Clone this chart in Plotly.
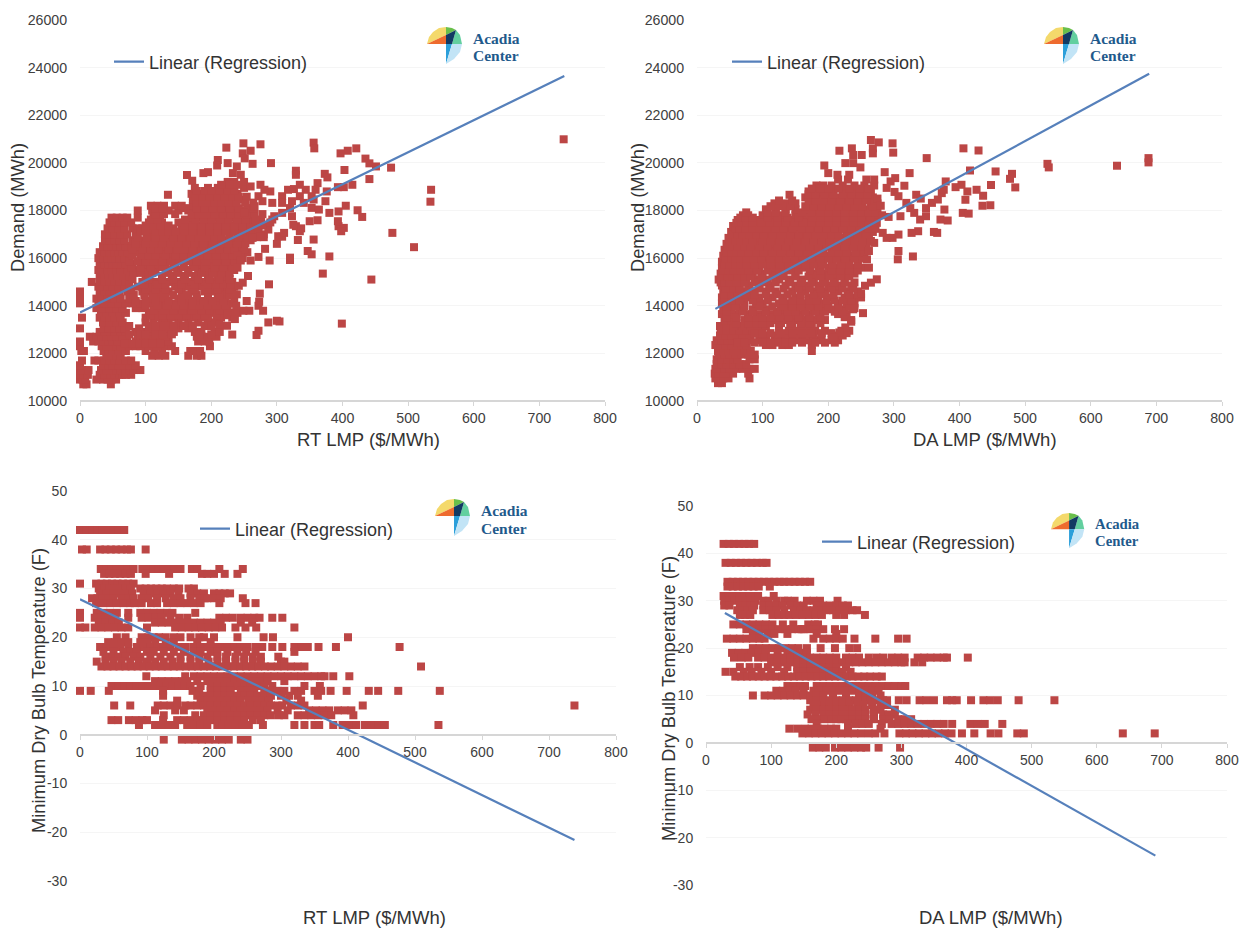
import plotly.graph_objects as go

W, H = 1244, 930
RED = "#bc4645"
BLUE = "#5680bb"
FONT = "Liberation Sans, Arial, sans-serif"

x_ticks = [0, 100, 200, 300, 400, 500, 600, 700, 800]
demand_ticks = [10000, 12000, 14000, 16000, 18000, 20000, 22000, 24000, 26000]
demand_labels = ["10000", "12000", "14000", "16000", "18000", "20000", "22000", "24000", "26000"]
temp_ticks = [-30, -20, -10, 0, 10, 20, 30, 40, 50]
temp_labels = ["-30", "-20", "-10", "0", "10", "20", "30", "40", "50"]

# ---- Demand vs RT LMP: (demand, [rt lmp values at that demand]) ----
rt_demand_rows = [
    (10700, [5, 10, 47]),
    (10900, [0, 4, 8, 25, 35, 42, 48, 55]),
    (11100, [0, 6, 12, 30, 38, 46, 52, 60, 65, 70, 78]),
    (11300, [0, 3, 13, 32, 40, 47, 55, 62, 70, 75, 82, 92]),
    (11500, [0, 35, 43, 50, 58, 67, 75, 85]),
    (11700, [3, 22, 28, 37, 45, 52, 60, 70, 78]),
    (11900, [40, 48, 55, 62, 110, 120, 130, 165, 178, 185]),
    (12100, [2, 6, 36, 44, 50, 58, 70, 100, 113, 125, 145, 168, 175, 183]),
    (12300, [0, 33, 40, 47, 55, 62, 75, 85, 92, 105, 118, 130, 140, 198]),
    (12500, [0, 20, 28, 36, 43, 50, 57, 64, 72, 85, 95, 103, 115, 125, 135, 180, 190, 197]),
    (12700, [15, 25, 33, 41, 48, 56, 65, 88, 97, 110, 122, 130, 178, 186, 195, 208]),
    (12900, [30, 38, 47, 53, 62, 70, 85, 95, 105, 118, 128, 143, 175, 185, 205, 213]),
    (13050, [0, 36, 44, 52, 60, 68, 90, 110, 120, 135, 150, 165]),
    (13300, [35, 45, 55, 65, 100, 112, 125, 135, 150, 165, 180, 195, 205]),
    (13500, [3, 30, 38, 45, 52, 62, 100, 115, 130, 140, 155, 170, 185, 195, 215, 232]),
    (13700, [32, 40, 50, 60, 70, 105, 120, 145, 160, 172, 180, 200, 220, 230, 240]),
    (13900, [25, 35, 45, 55, 65, 85, 95, 135, 150, 165, 175, 190, 205, 215, 225]),
    (14100, [0, 28, 38, 48, 58, 70, 80, 92, 110, 125, 140, 160, 170, 185, 200, 215, 230]),
    (14300, [0, 25, 33, 42, 52, 62, 75, 110, 120, 130, 150, 165, 178, 195, 210, 222, 235]),
    (14600, [0, 30, 38, 45, 53, 60, 72, 95, 105, 120, 135, 155, 170, 190, 205, 220, 232]),
    (14800, [28, 35, 42, 50, 58, 68, 88, 108, 125, 145, 165, 185, 200, 212, 225, 235]),
    (15000, [18, 30, 38, 45, 52, 60, 70, 95, 115, 135, 150, 170, 190, 205, 220, 232]),
    (15250, [30, 37, 44, 50, 57, 66, 75, 100, 125, 140, 158, 175, 195, 210, 222]),
    (15500, [28, 35, 42, 48, 55, 62, 72, 85, 100, 115, 135, 150, 165, 180, 195, 208, 225, 235]),
    (15750, [30, 38, 44, 50, 56, 63, 70, 80, 95, 105, 118, 130, 145, 158, 172, 185, 200, 215, 230]),
    (16000, [28, 36, 42, 48, 54, 60, 68, 76, 92, 108, 120, 135, 148, 160, 175, 188, 200, 212, 225, 238, 248]),
    (16250, [30, 38, 45, 52, 58, 65, 72, 85, 100, 112, 125, 140, 152, 165, 178, 190, 205, 215, 228, 240, 255]),
    (16500, [35, 42, 48, 55, 62, 70, 78, 90, 105, 118, 130, 142, 155, 168, 180, 195, 208, 220, 232, 245]),
    (16750, [38, 45, 52, 60, 68, 80, 95, 110, 122, 135, 148, 160, 172, 185, 198, 210, 222, 235, 248, 260]),
    (17000, [38, 45, 53, 62, 72, 85, 110, 120, 130, 140, 152, 165, 178, 190, 202, 215, 228, 240, 252, 265, 280]),
    (17250, [42, 50, 58, 68, 80, 88, 95, 108, 118, 128, 142, 155, 168, 180, 192, 205, 218, 230, 242, 255, 270]),
    (17500, [45, 52, 60, 68, 78, 105, 115, 125, 150, 165, 175, 188, 200, 212, 225, 238, 250, 262]),
    (17700, [48, 56, 65, 72, 88, 112, 122, 172, 182, 195, 208, 220, 232, 245, 258]),
    (18000, [88, 110, 120, 135, 150, 165, 175, 188, 200, 212, 225, 238, 252]),
    (18200, [108, 118, 128, 145, 155, 172, 182, 195, 208, 220, 232]),
    (18450, [172, 180, 190, 200, 212, 222, 232, 245]),
    (18700, [170, 182, 195, 205, 215, 228, 240]),
    (18950, [175, 195, 210, 222, 235, 250]),
    (19200, [225, 235, 250]),
]
rt_demand_fill = [
    (12400, [68, 80, 90, 100, 110, 122]),
    (12800, [75, 92, 100, 115, 125, 140, 182, 200]),
    (13150, [75, 105, 115, 128, 142, 158, 172, 190, 200]),
    (13600, [108, 125, 138, 150, 163, 178, 190, 208, 225]),
    (13800, [112, 128, 142, 156, 170, 185, 198, 212]),
    (14000, [100, 118, 132, 145, 158, 172, 182, 195, 208, 222, 238]),
    (14200, [85, 100, 115, 135, 155, 172, 188, 202, 218]),
    (14450, [82, 98, 112, 128, 142, 160, 178, 195, 212, 228]),
    (14700, [78, 100, 115, 130, 150, 175, 195, 210, 228]),
    (14900, [75, 98, 118, 130, 155, 175, 195, 208, 218, 230]),
    (15120, [80, 105, 125, 142, 160, 180, 198, 212, 228]),
    (15380, [82, 92, 110, 132, 148, 165, 185, 202, 215, 228]),
    (15620, [78, 92, 108, 125, 142, 158, 175, 190, 205, 218, 232]),
    (15870, [75, 88, 100, 112, 125, 138, 152, 165, 178, 192, 208, 222, 236]),
    (16120, [80, 95, 105, 115, 130, 145, 158, 170, 182, 195, 208, 220, 232, 244]),
    (16380, [80, 95, 108, 120, 135, 148, 160, 172, 185, 200, 212, 225, 235, 250]),
    (16620, [85, 100, 112, 125, 138, 150, 162, 175, 188, 202, 215, 226, 240, 252]),
    (16880, [88, 102, 115, 128, 142, 155, 168, 180, 192, 205, 216, 228, 242, 255, 270, 280]),
    (17120, [92, 100, 115, 125, 135, 146, 160, 172, 185, 198, 210, 222, 235, 248, 260, 272]),
    (17370, [100, 112, 122, 135, 160, 172, 185, 198, 210, 222, 235, 248, 260, 272, 282]),
    (17620, [108, 118, 160, 176, 188, 200, 214, 226, 240, 252, 265, 276]),
    (17850, [115, 128, 145, 170, 180, 192, 205, 218, 230, 242, 255, 266, 278]),
    (18100, [115, 125, 160, 178, 190, 202, 215, 228, 242, 255, 265]),
    (18330, [178, 186, 195, 205, 216, 226, 238, 252, 264]),
    (18580, [176, 186, 198, 210, 220, 232, 242, 254]),
    (18820, [178, 190, 200, 212, 225, 235]),
    (19080, [215, 228, 240]),
]
rt_demand_extra = [
    (737, 20990), (535, 18870), (534, 18370), (509, 16460), (476, 17060), (474, 19800), (444, 15100), (399, 13250),
    (356, 20850), (357, 20610), (421, 20610), (408, 20510), (397, 20400), (435, 20180), (441, 19980), (451, 19850),
    (291, 19990), (275, 20780), (249, 20820), (223, 20640), (260, 20510), (248, 20400), (251, 20190), (263, 19960),
    (225, 19990), (210, 20120), (209, 19890), (163, 19490), (171, 19250), (188, 19570), (195, 19610), (239, 19850),
    (233, 19570), (245, 19500), (134, 18660), (329, 19670), (329, 19500), (373, 19540), (377, 19390), (403, 19700),
    (441, 19320), (415, 19080), (393, 18980), (402, 18980), (405, 18200), (423, 18010), (430, 17730), (394, 17340),
    (402, 17270), (398, 17130), (394, 17960), (393, 17550), (380, 17900), (374, 18390), (376, 18800), (362, 17590),
    (350, 17550), (353, 18110), (364, 18040), (356, 16780), (347, 16300), (353, 16160), (380, 16070), (370, 15350),
    (320, 15920), (320, 16020), (272, 16050), (289, 15900), (282, 16390), (300, 16600), (308, 16900), (332, 16760),
    (335, 17130), (329, 17340), (288, 14900), (274, 14510), (273, 14170), (272, 14000), (279, 13790), (287, 13300),
    (300, 13370), (304, 13340), (272, 12950), (269, 12770), (232, 12790), (256, 15250), (248, 14970), (242, 14840),
    (239, 14480), (254, 14200), (258, 13790), (249, 13790), (236, 13440), (224, 13160), (212, 13230), (308, 18600),
    (317, 18870), (326, 18900), (335, 19080), (344, 18870), (362, 19150), (359, 18870), (308, 18320), (323, 18390),
    (335, 18600), (341, 18320), (320, 18100), (323, 17760), (308, 17900), (296, 17760), (293, 18320), (290, 18800),
    (275, 19080), (260, 19010), (281, 18870), (272, 18600), (278, 18390), (266, 18180), (293, 17620), (287, 17200),
    (302, 16920), (275, 16920), (263, 16850), (311, 17060), (356, 18460), (353, 18600), (240, 16100), (245, 15900),
    (260, 15900), (240, 15600), (250, 17900), (268, 17600), (278, 17400), (290, 17500), (337, 17250), (325, 17400),
]
rt_demand_line_x = [0, 738]
rt_demand_line_y = [13720, 23650]

# ---- Demand vs DA LMP ----
da_demand_rows = [
    (10750, [32, 38]),
    (10950, [28, 34, 40, 48, 80]),
    (11150, [27, 33, 40, 47, 55, 78]),
    (11350, [28, 35, 42, 50, 60, 70, 80, 88]),
    (11550, [30, 38, 45, 55, 65, 75]),
    (11750, [30, 38, 46, 55, 62, 80, 88]),
    (11950, [33, 42, 50, 58, 68, 78, 88]),
    (12100, [32, 40, 48, 56, 64, 72, 82, 175]),
    (12350, [28, 36, 44, 52, 60, 68, 76, 105, 115, 130, 140, 175]),
    (12550, [30, 38, 46, 54, 62, 72, 82, 95, 105, 118, 130, 142, 155, 170, 185, 205, 215]),
    (12750, [35, 43, 52, 60, 70, 80, 95, 105, 122, 135, 150, 165, 178, 190, 212, 222]),
    (12950, [36, 45, 55, 65, 75, 85, 95, 125, 140, 155, 170, 180, 195, 220, 232]),
    (13150, [35, 45, 55, 70, 82, 92, 105, 125, 145, 160, 175]),
    (13400, [42, 52, 72, 85, 95, 105, 118, 135, 150, 165, 180, 195, 235]),
    (13650, [38, 50, 60, 78, 95, 115, 132, 145, 158, 170, 185, 215, 228]),
    (13850, [40, 52, 65, 85, 105, 128, 140, 152, 165, 178, 190, 205, 225, 238]),
    (14100, [38, 48, 60, 72, 90, 100, 125, 140, 150, 165, 175, 190, 215, 228, 240]),
    (14350, [38, 46, 56, 68, 78, 95, 115, 130, 150, 170, 185, 200, 225, 240, 250]),
    (14600, [40, 50, 60, 70, 85, 105, 120, 145, 165, 180, 195, 215, 230, 245]),
    (14850, [38, 46, 55, 65, 80, 95, 110, 135, 150, 165, 185, 200, 215, 235]),
    (15100, [33, 40, 48, 56, 66, 75, 90, 108, 125, 140, 160, 178, 195, 210, 225]),
    (15350, [36, 44, 52, 60, 70, 85, 100, 118, 130, 150, 180, 195, 210, 225, 240]),
    (15600, [38, 46, 54, 62, 72, 82, 95, 108, 120, 135, 145, 160, 172, 185, 200, 212, 225, 238, 250]),
    (15850, [38, 46, 54, 62, 70, 80, 92, 105, 118, 130, 142, 155, 168, 180, 192, 205, 218, 230, 245]),
    (16100, [40, 48, 56, 64, 72, 82, 95, 108, 122, 135, 148, 160, 172, 185, 198, 210, 222, 235, 250]),
    (16350, [42, 50, 58, 66, 75, 85, 100, 112, 125, 138, 150, 165, 178, 190, 205, 218, 230, 245, 255]),
    (16600, [45, 52, 60, 68, 78, 92, 105, 118, 130, 145, 158, 170, 182, 195, 208, 220, 232, 245, 258]),
    (16850, [48, 56, 64, 72, 82, 95, 108, 120, 135, 148, 160, 172, 185, 198, 210, 222, 235, 248, 262]),
    (17100, [52, 60, 68, 78, 88, 100, 112, 125, 138, 150, 165, 178, 190, 202, 215, 228, 240, 252, 268]),
    (17350, [55, 62, 70, 80, 90, 102, 115, 128, 140, 155, 168, 180, 192, 205, 218, 230, 242, 255, 270]),
    (17600, [62, 70, 78, 92, 105, 118, 130, 145, 160, 172, 185, 198, 210, 222, 235, 248, 260, 272]),
    (17800, [70, 78, 100, 112, 128, 150, 168, 180, 192, 205, 218, 230, 242, 255, 270]),
    (18050, [105, 120, 135, 150, 170, 182, 195, 208, 220, 232, 245, 258, 275]),
    (18300, [118, 135, 150, 175, 185, 198, 212, 225, 238, 250, 265, 275]),
    (18550, [165, 175, 188, 200, 215, 228, 240, 255, 268]),
    (18800, [170, 180, 192, 205, 225, 240, 250, 265]),
    (19050, [182, 192, 205, 222, 240, 255, 270]),
    (19300, [215, 230, 258, 270]),
]
da_demand_fill = [
    (12450, [62, 72, 88, 100, 112, 124, 135, 145, 160, 180, 195, 210]),
    (12850, [88, 100, 112, 128, 145, 160, 175, 190, 205, 228]),
    (13270, [60, 78, 90, 100, 112, 128, 142, 158, 172, 188]),
    (13520, [45, 60, 78, 90, 100, 112, 125, 140, 155, 172, 188, 225]),
    (13750, [45, 70, 85, 105, 122, 138, 150, 165, 180, 195, 210, 222]),
    (13980, [45, 58, 72, 95, 115, 132, 145, 158, 172, 185, 200, 215, 232]),
    (14220, [42, 52, 65, 85, 108, 132, 145, 158, 172, 182, 198, 210, 222, 235]),
    (14480, [42, 52, 62, 75, 88, 105, 122, 138, 158, 178, 192, 208, 232, 245]),
    (14720, [44, 55, 65, 78, 95, 112, 132, 155, 172, 188, 205, 222, 238]),
    (14980, [36, 42, 50, 60, 72, 88, 102, 120, 142, 158, 175, 192, 208, 225, 240]),
    (15230, [38, 46, 54, 62, 72, 82, 98, 115, 132, 150, 170, 188, 202, 218, 232]),
    (15480, [40, 48, 56, 66, 78, 92, 108, 125, 140, 155, 172, 188, 205, 218, 232, 245]),
    (15730, [42, 50, 58, 66, 76, 88, 100, 112, 126, 140, 152, 166, 178, 192, 206, 220, 232, 245]),
    (15980, [44, 52, 58, 66, 75, 86, 98, 112, 125, 136, 148, 162, 175, 188, 200, 212, 226, 240, 252]),
    (16230, [45, 52, 60, 68, 78, 90, 102, 115, 128, 142, 155, 168, 180, 192, 205, 216, 228, 242, 255]),
    (16480, [47, 54, 62, 72, 82, 95, 108, 122, 135, 148, 160, 172, 185, 198, 212, 225, 238, 250]),
    (16720, [50, 58, 66, 75, 85, 100, 112, 125, 140, 152, 165, 178, 190, 202, 214, 228, 240, 252, 265]),
    (16980, [54, 62, 70, 80, 90, 102, 115, 128, 142, 155, 168, 180, 192, 205, 216, 230, 245, 258]),
    (17230, [58, 65, 74, 84, 95, 106, 120, 132, 145, 160, 172, 185, 198, 210, 222, 235, 248, 262, 272]),
    (17480, [60, 68, 76, 85, 98, 110, 122, 135, 148, 162, 175, 188, 200, 212, 225, 238, 250, 262, 274]),
    (17700, [66, 74, 85, 108, 122, 138, 155, 176, 188, 200, 212, 225, 238, 250, 264]),
    (17920, [75, 108, 120, 135, 160, 175, 188, 200, 212, 225, 238, 250, 262, 272]),
    (18180, [112, 128, 142, 165, 178, 190, 202, 215, 228, 240, 252, 268]),
    (18420, [125, 145, 170, 180, 192, 205, 218, 232, 245, 258, 270]),
    (18680, [170, 180, 195, 208, 222, 235, 248, 260]),
    (18920, [175, 188, 200, 215, 232, 248, 262]),
]
da_demand_extra = [
    (688, 20200), (688, 20020), (640, 19880), (534, 19960), (536, 19810), (485, 18970), (480, 19540), (477, 19330),
    (455, 19640), (448, 19070), (447, 18220), (435, 18200), (436, 18620), (426, 18870), (416, 19680), (429, 20520),
    (406, 20610), (412, 18800), (403, 19080), (394, 18980), (409, 18450), (405, 17900), (414, 17870), (350, 20200),
    (298, 20820), (299, 20430), (265, 20960), (277, 20860), (268, 20610), (268, 20400), (236, 20610), (217, 20510),
    (238, 20330), (251, 20330), (226, 19990), (238, 19990), (249, 19810), (194, 19890), (200, 19570), (214, 19500),
    (232, 19500), (141, 18660), (324, 19570), (286, 19610), (302, 19360), (295, 19220), (316, 19040), (289, 18950),
    (301, 18780), (307, 18600), (334, 18660), (341, 18500), (319, 18320), (325, 18100), (310, 17760), (292, 17730),
    (331, 17900), (340, 17620), (349, 17760), (349, 18100), (358, 18320), (367, 18460), (373, 18730), (379, 19220),
    (376, 18870), (377, 18040), (371, 17620), (382, 17580), (361, 17100), (366, 17060), (337, 17130), (327, 17060),
    (307, 16990), (298, 16850), (283, 17060), (289, 16850), (270, 16640), (307, 16300), (306, 15950), (329, 16070),
    (274, 15110), (265, 14970), (256, 14840), (262, 15600), (259, 15950), (253, 13690), (235, 13330), (226, 13090),
    (217, 12880), (208, 12670), (262, 16300), (275, 18500), (280, 18200), (282, 17800), (240, 13900), (250, 14500),
]
da_demand_line_x = [28, 689]
da_demand_line_y = [13870, 23740]

# ---- Minimum dry bulb temperature vs RT LMP: (temperature, [rt lmp values]) ----
rt_temp_rows = [
    (42, [0, 9, 18, 26, 34, 42, 50, 58, 66]),
    (38, [3, 10, 30, 38, 46, 54, 62, 70, 76, 98]),
    (34, [31, 39, 47, 55, 63, 71, 80, 93, 101, 109, 117, 125, 133, 141, 150, 167, 175, 208, 243]),
    (33, [36, 44, 52, 60, 68, 76, 98, 133, 182, 190, 200, 216, 235]),
    (31, [0, 24, 32, 40, 48, 56, 64, 72, 80]),
    (30, [28, 36, 44, 52, 60, 68, 76, 90, 98, 106, 114, 122, 130, 140, 148, 162, 170]),
    (29, [30, 40, 50, 60, 70, 78, 95, 105, 115, 125, 135, 147, 165, 175, 185, 200, 208, 216, 224]),
    (28, [18, 26, 34, 42, 50, 62, 72, 80, 92, 102, 115, 128, 140, 150, 165, 178, 186, 190, 200, 210, 243]),
    (27, [24, 35, 45, 55, 65, 75, 82, 92, 106, 115, 130, 140, 150, 160, 170, 180, 208, 247, 262]),
    (25, [0, 25, 35, 45, 55, 72, 90, 100, 110, 120, 130, 138, 172]),
    (24, [0, 22, 32, 42, 52, 72, 92, 102, 112, 122, 135, 148, 160, 208, 218, 228, 240, 250, 260, 268, 287, 302]),
    (23, [28, 38, 48, 58, 112, 122, 132, 142, 150, 160, 170, 180, 190, 200, 210, 240, 257]),
    (22, [0, 8, 22, 32, 42, 52, 62, 72, 100, 142, 152, 162, 172, 182, 192, 202, 212, 232, 247, 263, 320]),
    (20, [55, 68, 92, 102, 110, 118, 128, 140, 150, 165, 178, 185, 200, 235, 274, 288, 400]),
    (19, [42, 52, 62, 72, 90, 100, 112, 128, 140, 175, 195]),
    (18, [30, 40, 50, 60, 72, 85, 95, 105, 115, 125, 135, 147, 158, 170, 180, 190, 200, 210, 220, 230, 240, 250, 262, 272, 287, 302, 320, 330, 340, 356, 382, 477]),
    (17, [35, 50, 65, 75, 85, 100, 110, 125, 140, 155, 170, 180, 195, 205, 220, 235, 248, 262, 320]),
    (16, [38, 48, 58, 68, 80, 90, 105, 120, 135, 150, 165, 178, 190, 205, 218, 232, 245, 258, 270, 296]),
    (15, [25, 38, 50, 62, 75, 88, 100, 112, 125, 138, 150, 165, 178, 192, 205, 218, 232, 245, 258, 270, 300, 305]),
    (14, [32, 41, 50, 59, 68, 77, 86, 95, 104, 113, 122, 131, 140, 149, 158, 167, 176, 185, 194, 203, 212, 221, 230, 239, 248, 257, 266, 276, 285, 295, 305, 315, 325, 335, 509]),
    (12, [99, 157, 170, 180, 190, 200, 210, 220, 230, 240, 250, 260, 270, 280, 290, 300, 310, 320, 330, 340, 350, 360, 365, 378, 402]),
    (11, [112, 122, 132, 142, 152, 160, 175, 190, 200, 210, 220, 230, 240, 250, 260, 270, 280, 305]),
    (10, [47, 57, 66, 75, 84, 93, 102, 111, 120, 129, 138, 147, 156, 165, 180, 195, 205, 215, 225, 235, 245, 255, 265, 275, 287, 335, 358]),
    (9, [0, 16, 43, 124, 168, 178, 195, 205, 215, 225, 240, 250, 260, 275, 285, 295, 305, 320, 330, 350, 360, 374, 398, 431, 445, 475, 537]),
    (8, [124, 175, 185, 195, 205, 215, 225, 235, 245, 255, 265, 275, 285, 300, 312, 325, 355]),
    (7, [145, 180, 190, 200, 210, 220, 230, 240, 252, 262, 272, 282, 308, 330]),
    (6, [51, 75, 116, 125, 135, 145, 157, 165, 175, 185, 195, 205, 215, 225, 235, 245, 255, 265, 275, 285, 295, 302, 315, 325, 335, 422, 738]),
    (5, [112, 142, 155, 190, 200, 210, 220, 230, 240, 250, 260, 270, 280, 295, 310, 342, 352, 362, 372, 385, 395, 405]),
    (4, [125, 172, 185, 195, 205, 215, 225, 235, 245, 255, 265, 275, 285, 297, 305, 325, 335, 345, 355, 365, 375, 408]),
    (3, [47, 57, 73, 83, 93, 100, 124, 145, 155, 165, 175, 185, 195, 205, 215, 225, 235, 245, 258, 270]),
    (2, [88, 112, 122, 132, 142, 160, 170, 180, 190, 205, 212, 222, 232, 242, 252, 273, 320, 335, 350, 357, 378, 392, 402, 412, 425, 435, 445, 455, 535]),
    (-1, [125, 152, 162, 172, 182, 192, 202, 212, 222, 240, 250]),
]
rt_temp_line_x = [0, 738]
rt_temp_line_y = [27.8, -21.6]

# ---- Minimum dry bulb temperature vs DA LMP ----
da_temp_rows = [
    (42, [27, 35, 43, 51, 59, 66, 74]),
    (38, [30, 38, 46, 54, 62, 70, 78, 87, 93]),
    (34, [33, 41, 49, 57, 65, 73, 81, 89, 97, 105, 113, 120, 128, 136, 144, 152, 160]),
    (33, [33, 41, 49, 57, 65, 73, 81, 98]),
    (31, [27, 35, 43, 51, 59, 67, 75, 80, 104]),
    (30, [28, 36, 44, 52, 60, 68, 76, 88, 96, 108, 120, 126, 136, 155, 165, 175, 202]),
    (29, [28, 36, 52, 60, 68, 74, 88, 98, 108, 118, 130, 140, 150, 170, 180, 190, 200, 210, 218]),
    (28, [48, 56, 64, 72, 88, 98, 108, 120, 135, 145, 155, 165, 175, 185, 195, 205, 215, 225, 232]),
    (27, [52, 60, 68, 102, 112, 120, 128, 138, 148, 158, 168, 178, 200, 212, 244]),
    (25, [42, 52, 62, 72, 82, 92, 102, 118, 134, 157, 167, 172]),
    (24, [62, 72, 82, 92, 102, 112, 122, 132, 142, 147, 150, 160, 170, 180, 198, 212]),
    (23, [72, 82, 95, 105, 125, 170, 200]),
    (22, [32, 42, 52, 62, 72, 82, 90, 165, 180, 190, 200, 210, 228, 260, 295, 308]),
    (20, [72, 82, 92, 102, 112, 122, 132, 142, 155, 176, 198, 220, 232]),
    (19, [40, 50, 60, 70, 80, 92, 110, 125, 135, 145, 155]),
    (18, [43, 55, 65, 80, 90, 100, 110, 120, 130, 140, 150, 160, 170, 180, 190, 200, 215, 225, 235, 250, 262, 272, 285, 295, 305, 325, 335, 345, 355, 365, 370, 402]),
    (17, [100, 110, 120, 130, 140, 150, 160, 170, 180, 190, 200, 210, 220, 230, 240, 250, 260, 270, 280, 290, 300, 305, 320, 332]),
    (16, [52, 67, 80, 95, 110, 125, 140, 150, 160, 170, 180, 190, 200, 215]),
    (15, [30, 42, 58, 70, 85, 100, 120, 140, 150, 160, 170, 180, 190, 200, 210, 222]),
    (14, [45, 54, 63, 72, 81, 90, 99, 108, 117, 126, 135, 144, 153, 162, 171, 180, 189, 198, 207, 216, 225, 234, 243, 252, 262, 270]),
    (12, [125, 135, 145, 152, 170, 180, 190, 200, 210, 220, 230, 240, 250, 260, 270, 280, 290, 300, 306]),
    (11, [108, 118, 128, 138, 150, 165, 175, 185, 195, 205, 215, 225, 235, 245, 255, 265]),
    (10, [72, 90, 100, 110, 120, 130, 140, 150, 160, 170, 180, 195, 215, 235, 245, 255, 268]),
    (9, [160, 170, 180, 190, 200, 210, 220, 230, 238, 245, 252, 260, 272, 278, 296, 308, 328, 338, 350, 370, 378, 385, 407, 426, 436, 448, 480, 535]),
    (8, [165, 175, 182, 190, 200, 210, 220, 232, 242, 255, 268, 278]),
    (7, [160, 170, 180, 190, 200, 210, 218, 225, 235, 245, 258, 268, 290]),
    (6, [156, 168, 180, 190, 200, 210, 218, 225, 235, 245, 258, 272, 280, 290]),
    (5, [162, 172, 182, 192, 200, 208, 215, 225, 235, 245, 258, 272, 282, 295, 305, 315]),
    (4, [170, 218, 230, 240, 250, 270, 285, 295, 305, 315, 325, 335, 345, 355, 365, 378, 406, 417, 428, 455]),
    (3, [128, 140, 152, 162, 172, 182, 192, 200, 218, 268]),
    (2, [148, 158, 168, 178, 188, 198, 208, 218, 228, 238, 250, 260, 274, 297, 307, 317, 327, 337, 347, 357, 367, 377, 393, 412, 437, 449, 478, 488, 640, 689]),
    (-1, [164, 174, 184, 198, 208, 218, 228, 238, 246, 265, 298]),
]
da_temp_line_x = [29, 690]
da_temp_line_y = [27.4, -23.8]


def from_rows(rows):
    xs = [x for level, values in rows for x in values]
    ys = [level for level, values in rows for _ in values]
    return xs, ys


def with_extra(rows, extra):
    xs, ys = from_rows(rows)
    return xs + [p[0] for p in extra], ys + [p[1] for p in extra]


def fx(px):
    return px / W


def fy(px):
    return 1 - px / H


rt_d = with_extra(rt_demand_rows + rt_demand_fill, rt_demand_extra)
da_d = with_extra(da_demand_rows + da_demand_fill, da_demand_extra)
rt_t = from_rows(rt_temp_rows)
da_t = from_rows(da_temp_rows)

panels = [
    dict(points=rt_d, lx=rt_demand_line_x, ly=rt_demand_line_y, xtitle="RT LMP ($/MWh)", ytitle="Demand (MWh)",
         xpx=(80, 605), ypx=(20, 401), yrange=[10000, 26000], yticks=demand_ticks, ylabels=demand_labels, axis_px=401,
         xt=(368, 439), yt=(18, 208), legend=(109, 62), logo=(0, 0, 1.0), tfs=14.2),
    dict(points=da_d, lx=da_demand_line_x, ly=da_demand_line_y, xtitle="DA LMP ($/MWh)", ytitle="Demand (MWh)",
         xpx=(697, 1222), ypx=(20, 401), yrange=[10000, 26000], yticks=demand_ticks, ylabels=demand_labels, axis_px=401,
         xt=(985, 439), yt=(638, 208), legend=(727, 62), logo=(617, 0, 1.0), tfs=14.2),
    dict(points=rt_t, lx=rt_temp_line_x, ly=rt_temp_line_y, xtitle="RT LMP ($/MWh)", ytitle="Minimum Dry Bulb Temperature (F)",
         xpx=(80, 616), ypx=(491, 881), yrange=[-30, 50], yticks=temp_ticks, ylabels=temp_labels, axis_px=735,
         xt=(374, 917), yt=(38, 691), legend=(195, 529), logo=(8, 472, 1.0), tfs=14),
    dict(points=da_t, lx=da_temp_line_x, ly=da_temp_line_y, xtitle="DA LMP ($/MWh)", ytitle="Minimum Dry Bulb Temperature (F)",
         xpx=(706, 1227), ypx=(506, 885), yrange=[-30, 50], yticks=temp_ticks, ylabels=temp_labels, axis_px=743,
         xt=(991, 917), yt=(668, 699), legend=(817, 542), logo=(624, 486, 0.95), tfs=14),
]

fig = go.Figure()
layout = dict(
    width=W, height=H, margin=dict(l=0, r=0, t=0, b=0), autosize=False,
    paper_bgcolor="white", plot_bgcolor="white", showlegend=True,
    font=dict(family=FONT, color="#404040"),
)

# Logo geometry in page pixels (drawn once per panel with an offset)
LOGO_PIECES = [
    ("#f4d96b", [(427, 44), (429, 37), (433, 32), (439, 28), (446, 27), (446, 35)]),
    ("#ee6b2e", [(427, 44), (446, 35), (446, 44)]),
    ("#69bf4b", [(446, 27), (452, 28), (456, 30), (446, 35)]),
    ("#62cf9f", [(456, 30), (460, 35), (462, 44), (452, 44)]),
    ("#123a63", [(446, 35), (456, 30), (452, 44), (446, 44)]),
    ("#2b9fda", [(446, 44), (452, 44), (446, 64)]),
    ("#c2e4f6", [(452, 44), (462, 44), (460, 52), (454, 59), (446, 64)]),
]
shapes, annotations = [], []

for i, p in enumerate(panels):
    n = "" if i == 0 else str(i + 1)
    xa, ya = f"x{n}", f"y{n}"
    x_pts, y_pts = p["points"]
    fig.add_trace(go.Scatter(
        x=x_pts, y=y_pts, mode="markers", xaxis=xa, yaxis=ya, showlegend=False, cliponaxis=False,
        marker=dict(symbol="square", size=8, color=RED, line=dict(width=0)), name="Observations",
    ))
    fig.add_trace(go.Scatter(
        x=p["lx"], y=p["ly"], mode="lines", xaxis=xa, yaxis=ya, cliponaxis=False,
        line=dict(color=BLUE, width=2.2), name="Linear (Regression)",
        legend="legend" if i == 0 else f"legend{i + 1}",
    ))
    lx, ly = p["legend"]
    layout["legend" if i == 0 else f"legend{i + 1}"] = dict(
        x=fx(lx), y=fy(ly), xanchor="left", yanchor="middle", bgcolor="rgba(0,0,0,0)",
        font=dict(family=FONT, size=18, color="#333333"),
    )
    layout[f"xaxis{n}"] = dict(
        domain=[fx(p["xpx"][0]), fx(p["xpx"][1])], range=[0, 800], tickvals=x_ticks, anchor="free",
        position=fy(p["axis_px"]), showgrid=False, zeroline=False, showline=True, linecolor="#d6d6d6", linewidth=1.5,
        ticks="outside", ticklen=4, tickcolor="#d6d6d6", tickfont=dict(size=p["tfs"], color="#404040"),
        automargin=False,
    )
    layout[f"yaxis{n}"] = dict(
        domain=[fy(p["ypx"][1]), fy(p["ypx"][0])], range=p["yrange"], tickvals=p["yticks"], ticktext=p["ylabels"],
        anchor=xa, side="left", automargin=False,
        showgrid=True, gridcolor="#f5f5f5", gridwidth=1, zeroline=False, showline=False, ticks="outside", ticklen=9,
        tickcolor="rgba(0,0,0,0)", tickfont=dict(size=p["tfs"], color="#404040"),
    )
    # Axis titles sit off-centre in the reference, so they are placed explicitly
    annotations.append(dict(
        text=p["xtitle"], xref="paper", yref="paper", x=fx(p["xt"][0]), y=fy(p["xt"][1]), xanchor="center",
        yanchor="middle", showarrow=False, font=dict(family=FONT, size=18.5, color="#333333"),
    ))
    annotations.append(dict(
        text=p["ytitle"], xref="paper", yref="paper", x=fx(p["yt"][0]), y=fy(p["yt"][1]), xanchor="center",
        yanchor="middle", showarrow=False, textangle=-90, font=dict(family=FONT, size=18.3, color="#333333"),
    ))
    dx, dy, s = p["logo"]
    for color, pts in LOGO_PIECES:
        coords = [(fx(dx + 427 + (a - 427) * s), fy(dy + 27 + (b - 27) * s)) for a, b in pts]
        path = "M " + " L ".join(f"{a:.5f},{b:.5f}" for a, b in coords) + " Z"
        shapes.append(dict(type="path", path=path, xref="paper", yref="paper", fillcolor=color,
                           line=dict(width=0), layer="above"))
    for word, ty in (("Acadia", 38.5), ("Center", 56)):
        annotations.append(dict(
            text=f"<b>{word}</b>", xref="paper", yref="paper", x=fx(dx + 427 + 44 * s), y=fy(dy + 27 + (ty - 27) * s),
            xanchor="left", yanchor="middle", showarrow=False,
            font=dict(family="Liberation Serif, serif", size=15.5 * s, color="#1f5a8c"),
        ))

layout["shapes"] = shapes
layout["annotations"] = annotations
fig.update_layout(**layout)
fig.write_html("out.html", config={"displayModeBar": False}, post_script="document.body.style.margin='0';")
